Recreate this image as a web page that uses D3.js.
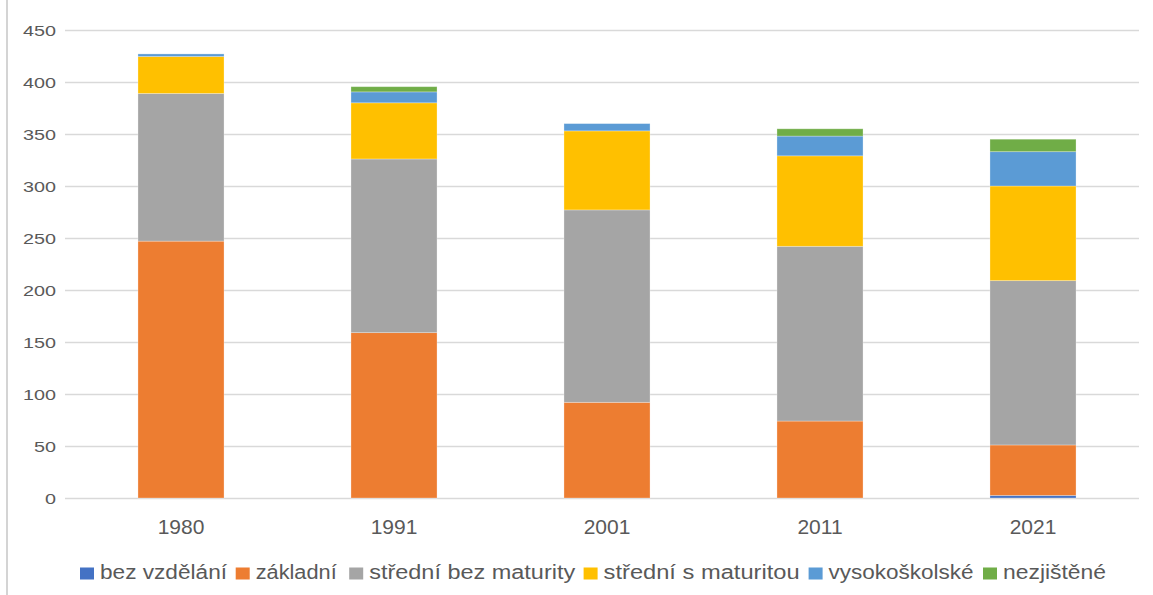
<!DOCTYPE html>
<html>
<head>
<meta charset="utf-8">
<script src="https://cdn.jsdelivr.net/npm/d3@7"></script>
<style>
  html, body { margin: 0; padding: 0; background: #fff; }
  svg { display: block; }
  text { font-family: "Liberation Sans", Arial, sans-serif; fill: #595959; }
</style>
</head>
<body>
<svg id="chart" width="1153" height="595"></svg>
<script>
// ---- data ----
const years = ["1980", "1991", "2001", "2011", "2021"];
const seriesNames = ["bez vzdělání", "základní", "střední bez maturity", "střední s maturitou", "vysokoškolské", "nezjištěné"];
const bezVzdelani       = [0,     0,    0,  0,   2.5];
const zakladni          = [247,   159,  92, 74,  48.5];
const stredniBezMaturity= [142,   167, 185, 168, 158];
const stredniSMaturitou = [35.5,  54,   76, 87,  91];
const vysokoskolske     = [2.5,   10.5,  7, 19,  33];
const nezjistene        = [0,     5,     0,  7,  12];
const yTicks = [0, 50, 100, 150, 200, 250, 300, 350, 400, 450];
const colors = ["#4472C4", "#ED7D31", "#A5A5A5", "#FFC000", "#5B9BD5", "#70AD47"];

const seriesValues = [bezVzdelani, zakladni, stredniBezMaturity, stredniSMaturitou, vysokoskolske, nezjistene];
const keys = seriesNames;
const table = years.map((y, i) => {
  const row = { year: y };
  keys.forEach((k, j) => row[k] = seriesValues[j][i]);
  return row;
});

const svg = d3.select("#chart");

// left border of the chart area
svg.append("line").attr("x1", 7).attr("x2", 7).attr("y1", 0).attr("y2", 595)
  .attr("stroke", "#d4d4d4").attr("stroke-width", 2);

const y = d3.scaleLinear().domain([0, 450]).range([498, 30]);
const x = d3.scaleBand().domain(years).range([74.5, 1139.5]).paddingInner(0.596).paddingOuter(0.298);

// gridlines
svg.append("g").selectAll("line").data(yTicks).join("line")
  .attr("x1", 65).attr("x2", 1139)
  .attr("y1", d => Math.round(y(d)) + 0.5).attr("y2", d => Math.round(y(d)) + 0.5)
  .attr("stroke", "#d9d9d9").attr("stroke-width", 1.3);

// y-axis labels
svg.append("g").selectAll("text").data(yTicks).join("text")
  .attr("x", 56).attr("y", d => y(d) + 5.5)
  .attr("text-anchor", "end")
  .attr("font-size", 15)
  .attr("textLength", d => String(d).length * 11)
  .attr("lengthAdjust", "spacingAndGlyphs")
  .text(d => d);

// stacked bars
const stacked = d3.stack().keys(keys)(table);
svg.append("g").selectAll("g").data(stacked).join("g")
  .attr("fill", (d, i) => colors[i])
  .selectAll("rect").data(d => d).join("rect")
  .attr("x", d => x(d.data.year))
  .attr("width", x.bandwidth())
  .attr("y", d => y(d[1]))
  .attr("height", d => Math.max(0, y(d[0]) - y(d[1])))
  .attr("stroke", "#ffffff").attr("stroke-opacity", 0.35).attr("stroke-width", 0.8);

// x-axis labels
svg.append("g").selectAll("text").data(years).join("text")
  .attr("x", d => x(d) + x.bandwidth() / 2)
  .attr("y", 534)
  .attr("text-anchor", "middle")
  .attr("font-size", 21)
  .text(d => d);

// legend
const legendSquareX = [80, 235.7, 349.2, 583.6, 808.6, 983];
const legendTextW = [127, 81, 206, 196, 145, 103];
const lg = svg.append("g").selectAll("g").data(keys).join("g");
lg.append("rect")
  .attr("x", (d, i) => legendSquareX[i]).attr("y", 567.5)
  .attr("width", 14).attr("height", 12)
  .attr("fill", (d, i) => colors[i]);
lg.append("text")
  .attr("x", (d, i) => legendSquareX[i] + 20).attr("y", 579)
  .attr("font-size", 20)
  .attr("textLength", (d, i) => legendTextW[i])
  .attr("lengthAdjust", "spacingAndGlyphs")
  .text(d => d);
</script>
</body>
</html>
